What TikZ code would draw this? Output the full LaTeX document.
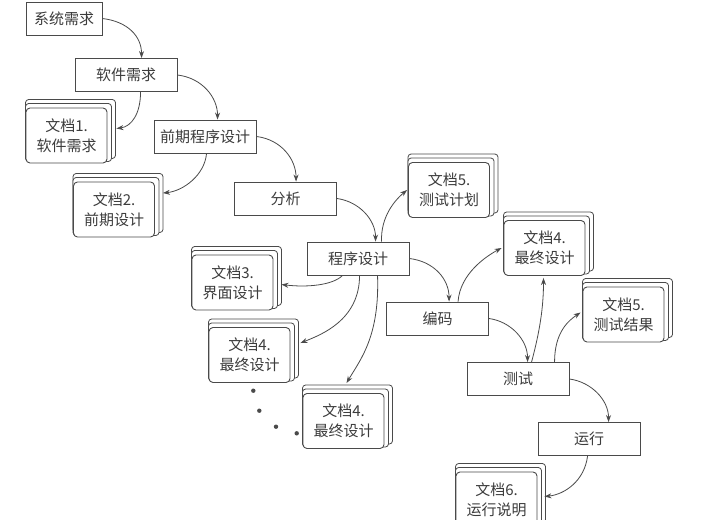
\documentclass[tikz,border=0pt]{standalone}
\usepackage{fontspec}
\newfontfamily\cjk{Noto Sans CJK SC}
\usetikzlibrary{arrows.meta,calc,backgrounds}
\definecolor{ln}{HTML}{4A4A4A}
\definecolor{tx}{HTML}{3C3C3C}
\tikzset{
 box/.style={draw=ln, line width=0.9pt, fill=white, minimum width=102pt, minimum height=33pt, inner sep=0pt, font=\cjk\fontsize{15}{18}\selectfont, text=tx},
 book/.style={draw=ln, line width=0.9pt, fill=white, minimum width=81pt, minimum height=55pt, inner sep=0pt, rounded corners=4pt, align=center, font=\cjk\fontsize{15}{20}\selectfont, text=tx},
 pages/.style={draw=ln, line width=0.8pt, fill=white, rounded corners=3pt},
 conn/.style={draw=ln, line width=0.8pt, -{Stealth[length=7pt,width=5pt]}},
 dotmark/.style={fill=ln, draw=none},
}
\begin{document}
\begin{tikzpicture}[x=1pt,y=-1pt]
\useasboundingbox (0,0) rectangle (719,519);
% process boxes
\node[box, minimum width=76pt] (sys) at (64,18.5) {系统需求};
\node[box] (sw) at (126,75) {软件需求};
\node[box] (pre) at (205,136.5) {前期程序设计};
\node[box] (ana) at (285.5,198.5) {分析};
\node[box] (des) at (358,258.5) {程序设计};
\node[box] (code) at (437.5,318.5) {编码};
\node[box] (test) at (518,379) {测试};
\node[box] (run) at (589,439) {运行};
% documents
\node[book] (d1) at (66.5,135.5) {文档1.\\软件需求};
\node[book] (d2) at (114,209.5) {文档2.\\前期设计};
\node[book] (d5a) at (449,190) {文档5.\\测试计划};
\node[book] (d3) at (232.5,282.5) {文档3.\\界面设计};
\node[book] (d4a) at (249.5,355) {文档4.\\最终设计};
\node[book] (d4b) at (343.5,421) {文档4.\\最终设计};
\node[book] (d4c) at (544.5,248) {文档4.\\最终设计};
\node[book] (d5b) at (623.5,314.5) {文档5.\\测试结果};
\node[book] (d6) at (496.5,499.5) {文档6.\\运行说明};
\begin{scope}[on background layer]
\foreach \b in {d1,d2,d5a,d3,d4a,d4b,d4c,d5b,d6} {
  \draw[pages] ($(\b.north west)+(0,-8)$) rectangle ($(\b.south east)+(8,-5)$);
  \draw[pages] ($(\b.north west)+(0,-4)$) rectangle ($(\b.south east)+(4,-2)$);
}
\end{scope}
% dots
\fill[dotmark] (253.3,390.7) circle (2.2);
\fill[dotmark] (259.3,410.7) circle (2.2);
\fill[dotmark] (276,426.7) circle (2.2);
\fill[dotmark] (296.7,433.3) circle (2.2);
% connectors
\draw[conn] (sys.east) .. controls +(25,3) and +(0,-22) .. ($(sw.north west)+(67,0)$);
\draw[conn] (sw.east) .. controls +(25,3) and +(0,-22) .. ($(pre.north west)+(64,0)$);
\draw[conn] ($(sw.south west)+(66,0)$) .. controls +(0,22) and +(15,-2) .. ($(d1.east)+(9,-7)$);
\draw[conn] ($(pre.south west)+(53,0)$) .. controls +(-2,22) and +(20,-2) .. ($(d2.east)+(8,-16.5)$);
\draw[conn] (pre.east) .. controls +(25,3) and +(0,-22) .. ($(ana.north west)+(62,0)$);
\draw[conn] (ana.east) .. controls +(22,3) and +(0,-22) .. ($(des.north west)+(69,0)$);
\draw[conn] ($(des.north west)+(75,0)$) .. controls +(-1,-25) and +(-12,10) .. ($(d5a.west)+(-1,0)$);
\draw[conn] ($(des.south west)+(36,0)$) .. controls +(-10,10) and +(25,3) .. ($(d3.east)+(8,2)$);
\draw[conn] ($(des.south west)+(53,0)$) .. controls +(0,45) and +(20,-8) .. ($(d4a.east)+(10,-12)$);
\draw[conn] ($(des.south west)+(71,0)$) .. controls +(2,60) and +(15,-25) .. ($(d4b.north)+(3,-10)$);
\draw[conn] (des.east) .. controls +(25,3) and +(0,-22) .. ($(code.north west)+(63,0)$);
\draw[conn] ($(code.north west)+(72,0)$) .. controls +(2,-28) and +(-15,8) .. ($(d4c.west)+(-2,0)$);
\draw[conn] (code.east) .. controls +(22,3) and +(0,-22) .. ($(test.north west)+(61,0)$);
\draw[conn] ($(test.north west)+(65,0)$) .. controls +(8,-30) and +(0,30) .. ($(d4c.south)+(-1,2)$);
\draw[conn] ($(test.north west)+(88,0)$) .. controls +(0,-30) and +(-12,8) .. ($(d5b.west)+(-2,-2)$);
\draw[conn] (test.east) .. controls +(22,3) and +(0,-22) .. ($(run.north west)+(71,0)$);
\draw[conn] ($(run.south west)+(50,0)$) .. controls +(-3,25) and +(20,-2) .. ($(d6.east)+(7,-3)$);
\end{tikzpicture}
\end{document}
